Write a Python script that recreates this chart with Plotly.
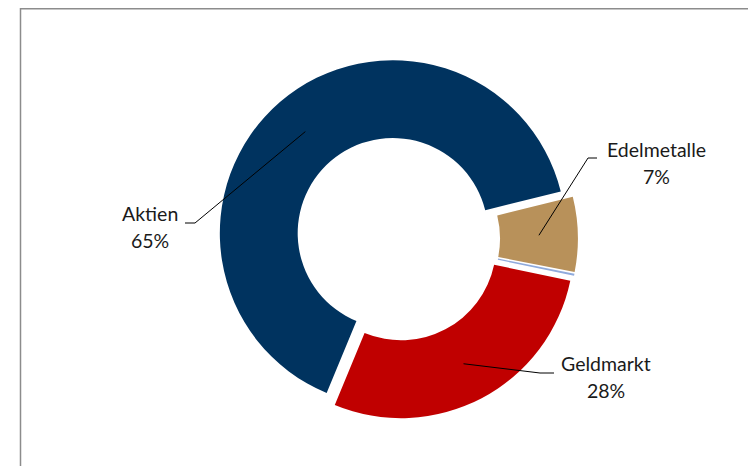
import math
import plotly.graph_objects as go

# ---- data ----
categories = ["Aktien", "Edelmetalle", " ", "Geldmarkt"]
values = [65, 7, 0.2, 28]
pct_labels = ["65%", "7%", "", "28%"]
colors = ["#00335F", "#B8915A", "#8FAADC", "#C00000"]

# ---- layout constants (page pixel coordinates) ----
W, H = 756, 466
OFF = 8                          # browser body margin
PIE_CX, PIE_CY = 397.6, 238.7    # pixel centre of the pie box
BOX = 360.6                      # pie box size in pixels
PULL = 0.042
HOLE = 0.55
ROTATION = 202.5
FONT = "Lato"
FSIZE = 19.5

# label line centres and leader elbows (pixels)
label_pos = {"Aktien": (150, 213, 240), "Edelmetalle": (656, 149.5, 176), "Geldmarkt": (606, 363.5, 390.5)}
leader_elbow = {"Aktien": [(195, 223), (185, 223)],
                "Edelmetalle": [(588, 158), (597, 158)],
                "Geldmarkt": [(540, 373), (554, 373)]}

fig = go.Figure()
fig.add_trace(go.Pie(
    labels=categories, values=values, sort=False, direction="clockwise",
    rotation=ROTATION, hole=HOLE, pull=PULL,
    marker=dict(colors=colors, line=dict(width=0)),
    textinfo="none", hoverinfo="skip", showlegend=False,
    domain=dict(x=[(PIE_CX - OFF - BOX / 2) / W, (PIE_CX - OFF + BOX / 2) / W],
                y=[1 - (PIE_CY - OFF + BOX / 2) / H, 1 - (PIE_CY - OFF - BOX / 2) / H]),
))

# leader lines anchored at each slice's mid-angle (computed from data)
R = BOX / 2 / (1 + PULL)
total = sum(values)
ang = ROTATION
annotations = []
shapes = [dict(type="rect", xref="x", yref="y", x0=20.5, y0=OFF + 0.75, x1=W + 40, y1=H + 40,
               line=dict(color="#8c8c8c", width=1.5), layer="below")]
for cat, v, pct in zip(categories, values, pct_labels):
    span = 360 * v / total
    mid = math.radians(ang + span / 2)
    ang += span
    if cat not in label_pos:
        continue
    ux, uy = math.sin(mid), -math.cos(mid)
    rr = R * PULL + R * (1 + HOLE) / 2
    ax, ay = PIE_CX + rr * ux, PIE_CY + rr * uy
    pts = [(ax, ay)] + leader_elbow[cat]
    path = "M " + " L ".join(f"{x:.2f},{y:.2f}" for x, y in pts)
    shapes.append(dict(type="path", path=path, xref="x", yref="y", layer="above",
                       line=dict(color="#000000", width=1)))
    lx, ly1, ly2 = label_pos[cat]
    for txt, ly in ((cat, ly1), (pct, ly2)):
        annotations.append(dict(x=lx, y=ly, xref="x", yref="y", showarrow=False,
                                text=txt, xanchor="center", yanchor="middle",
                                font=dict(family=FONT, size=FSIZE, color="#1a1a1a")))

fig.update_layout(
    width=W, height=H,
    margin=dict(l=0, r=0, t=0, b=0),
    paper_bgcolor="white", plot_bgcolor="rgba(0,0,0,0)",
    xaxis=dict(range=[OFF, W + OFF], visible=False, fixedrange=True),
    yaxis=dict(range=[H + OFF, OFF], visible=False, fixedrange=True),
    annotations=annotations,
    shapes=shapes,
)

fig.write_html("out.html")
